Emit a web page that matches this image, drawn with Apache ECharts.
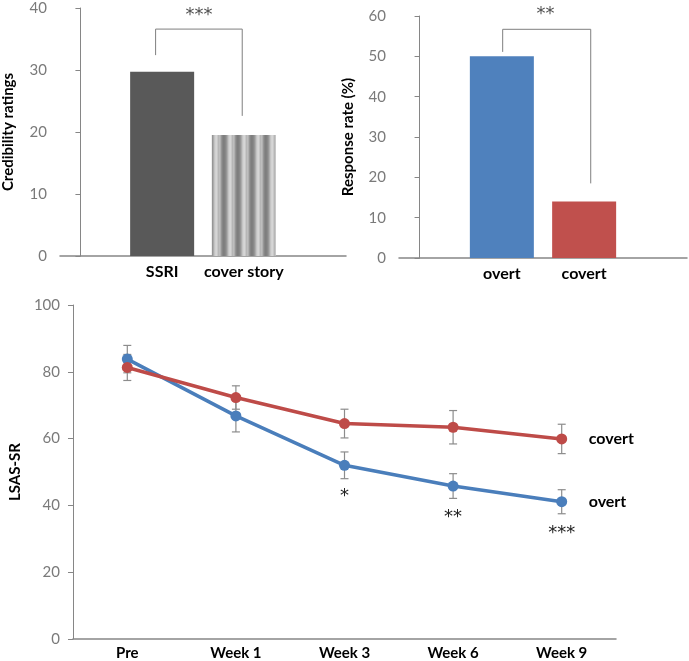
<!DOCTYPE html>
<html>
<head>
<meta charset="utf-8">
<script src="https://cdn.jsdelivr.net/npm/echarts@6/dist/echarts.min.js"></script>
<style>
  html, body { margin: 0; padding: 0; background: #fff; }
  #main { width: 689px; height: 661px; }
</style>
</head>
<body>
<div id="main"></div>
<script>
// panel A: credibility ratings
const credCats = ['SSRI', 'cover story']
const credValues = [29.7, 19.5]
const credBracket = [[0.92, 32.4], [0.92, 36.6], [1.98, 36.6], [1.98, 22.6]]
const credStars = [[1.45, 38.8]]

// panel B: response rate
const respCats = ['overt', 'covert']
const respValues = [50, 14]
const respBracket = [[1.01, 51.1], [1.01, 56.7], [2.08, 56.7], [2.08, 18.5]]
const respStars = [[1.53, 60.4]]

// panel C: LSAS-SR over time
const weeks = ['Pre', 'Week 1', 'Week 3', 'Week 6', 'Week 9']
const overtMean = [83.8, 66.8, 52.0, 45.8, 41.1]
const overtErr = [4.1, 4.8, 4.0, 3.7, 3.6]
const covertMean = [81.3, 72.3, 64.5, 63.4, 59.9]
const covertErr = [3.9, 3.5, 4.3, 5.0, 4.4]
const weekStars = ['', '', '*', '**', '***']

const FONT = 'Lato'
const STAR_FONT = 'DejaVu Sans'
const GRAY = '#868686'
const BLUE = '#4a7ebb'
const RED = '#be4b48'

// vertical striped fill for the "cover story" bar
function stripePattern() {
  const shades = [128, 136, 150, 172, 196, 210, 214, 200, 182, 190, 176, 150, 134, 126]
  const c = document.createElement('canvas')
  c.width = shades.length
  c.height = 4
  const ctx = c.getContext('2d')
  shades.forEach((s, i) => {
    ctx.fillStyle = 'rgb(' + s + ',' + s + ',' + s + ')'
    ctx.fillRect(i, 0, 1, 4)
  })
  return { image: c, repeat: 'repeat' }
}

function yAxisBase(gridIndex, max, interval, name, nameGap) {
  return {
    type: 'value',
    gridIndex: gridIndex,
    min: 0,
    max: max,
    interval: interval,
    name: name,
    nameLocation: 'middle',
    nameGap: nameGap,
    nameTextStyle: { fontFamily: FONT, fontWeight: 'bold', fontSize: 15, color: '#000' },
    axisLine: { show: true, lineStyle: { color: GRAY, width: 1 } },
    axisTick: { show: true, inside: false, length: 5, lineStyle: { color: GRAY } },
    axisLabel: { fontFamily: FONT, fontSize: 15, color: '#7a7a7a', margin: 13 },
    splitLine: { show: false }
  }
}

function barXAxis(gridIndex, cats) {
  return {
    type: 'value',
    gridIndex: gridIndex,
    min: -0.25,
    max: 3.25,
    splitLine: { show: false },
    axisTick: { show: false },
    axisLine: { show: true, onZero: false, lineStyle: { color: GRAY, width: 1.5 } },
    axisLabel: {
      customValues: [1, 2],
      formatter: v => cats[Math.round(v) - 1] || '',
      fontFamily: FONT, fontWeight: 'bold', fontSize: 16, color: '#000', margin: 8
    }
  }
}

function bracketSeries(idx, pts) {
  return {
    type: 'line',
    xAxisIndex: idx, yAxisIndex: idx,
    data: pts,
    symbol: 'none',
    silent: true,
    lineStyle: { color: '#7f7f7f', width: 1 },
    z: 3
  }
}

function starSeries(idx, pts, text) {
  return {
    type: 'scatter',
    xAxisIndex: idx, yAxisIndex: idx,
    data: pts,
    symbolSize: 1,
    clip: false,
    itemStyle: { color: 'rgba(0,0,0,0)' },
    label: {
      show: true, position: 'inside', formatter: text,
      fontFamily: STAR_FONT, fontSize: 18, color: '#222'
    }
  }
}

function errorSeries(means, errs) {
  return {
    type: 'custom',
    xAxisIndex: 2, yAxisIndex: 2,
    data: means.map((m, i) => [i, m - errs[i], m + errs[i]]),
    silent: true,
    z: 1,
    renderItem: (params, api) => {
      const lo = api.coord([api.value(0), api.value(1)])
      const hi = api.coord([api.value(0), api.value(2)])
      const w = 4
      const style = { stroke: '#8c8c8c', lineWidth: 1.2 }
      return {
        type: 'group',
        children: [
          { type: 'line', shape: { x1: lo[0], y1: lo[1], x2: hi[0], y2: hi[1] }, style: style },
          { type: 'line', shape: { x1: lo[0] - w, y1: lo[1], x2: lo[0] + w, y2: lo[1] }, style: style },
          { type: 'line', shape: { x1: hi[0] - w, y1: hi[1], x2: hi[0] + w, y2: hi[1] }, style: style }
        ]
      }
    }
  }
}

const credColors = ['#595959', stripePattern()]
const respColors = ['#4f81bd', '#c0504d']

const chart = echarts.init(document.getElementById('main'))
chart.setOption({
  animation: false,
  grid: [
    { left: 58, right: 343, top: 8, bottom: 405 },
    { left: 399, right: 2, top: 16, bottom: 403 },
    { left: 60, right: 73, top: 305, bottom: 22 }
  ],
  xAxis: [
    barXAxis(0, credCats),
    barXAxis(1, respCats),
    {
      type: 'category',
      gridIndex: 2,
      data: weeks,
      boundaryGap: true,
      axisTick: { show: false },
      axisLine: { show: true, lineStyle: { color: GRAY, width: 1.5 } },
      axisLabel: { fontFamily: FONT, fontWeight: 'bold', fontSize: 15, color: '#000', margin: 7 }
    }
  ],
  yAxis: [
    yAxisBase(0, 40, 10, 'Credibility ratings', 44),
    yAxisBase(1, 60, 10, 'Response rate (%)', 43),
    yAxisBase(2, 100, 20, 'LSAS-SR', 47)
  ],
  series: [
    {
      type: 'bar',
      xAxisIndex: 0, yAxisIndex: 0,
      barWidth: 64,
      data: credValues.map((v, i) => ({ value: [i + 1, v], itemStyle: { color: credColors[i] } }))
    },
    {
      type: 'bar',
      xAxisIndex: 1, yAxisIndex: 1,
      barWidth: 64,
      data: respValues.map((v, i) => ({ value: [i + 1, v], itemStyle: { color: respColors[i] } }))
    },
    bracketSeries(0, credBracket),
    bracketSeries(1, respBracket),
    starSeries(0, credStars, '***'),
    starSeries(1, respStars, '**'),
    errorSeries(overtMean, overtErr),
    errorSeries(covertMean, covertErr),
    {
      name: 'overt',
      type: 'line',
      xAxisIndex: 2, yAxisIndex: 2,
      data: overtMean,
      symbol: 'circle',
      symbolSize: 11,
      z: 2,
      lineStyle: { color: BLUE, width: 3.5 },
      itemStyle: { color: BLUE },
      label: {
        show: true, position: 'bottom', distance: 17,
        formatter: p => weekStars[p.dataIndex],
        fontFamily: STAR_FONT, fontSize: 18, color: '#222'
      },
      endLabel: {
        show: true, formatter: '{a}', distance: 27,
        fontFamily: FONT, fontWeight: 'bold', fontSize: 16, color: '#000'
      }
    },
    {
      name: 'covert',
      type: 'line',
      xAxisIndex: 2, yAxisIndex: 2,
      data: covertMean,
      symbol: 'circle',
      symbolSize: 11,
      z: 3,
      lineStyle: { color: RED, width: 3.5 },
      itemStyle: { color: RED },
      endLabel: {
        show: true, formatter: '{a}', distance: 27,
        fontFamily: FONT, fontWeight: 'bold', fontSize: 16, color: '#000'
      }
    }
  ]
})
</script>
</body>
</html>
